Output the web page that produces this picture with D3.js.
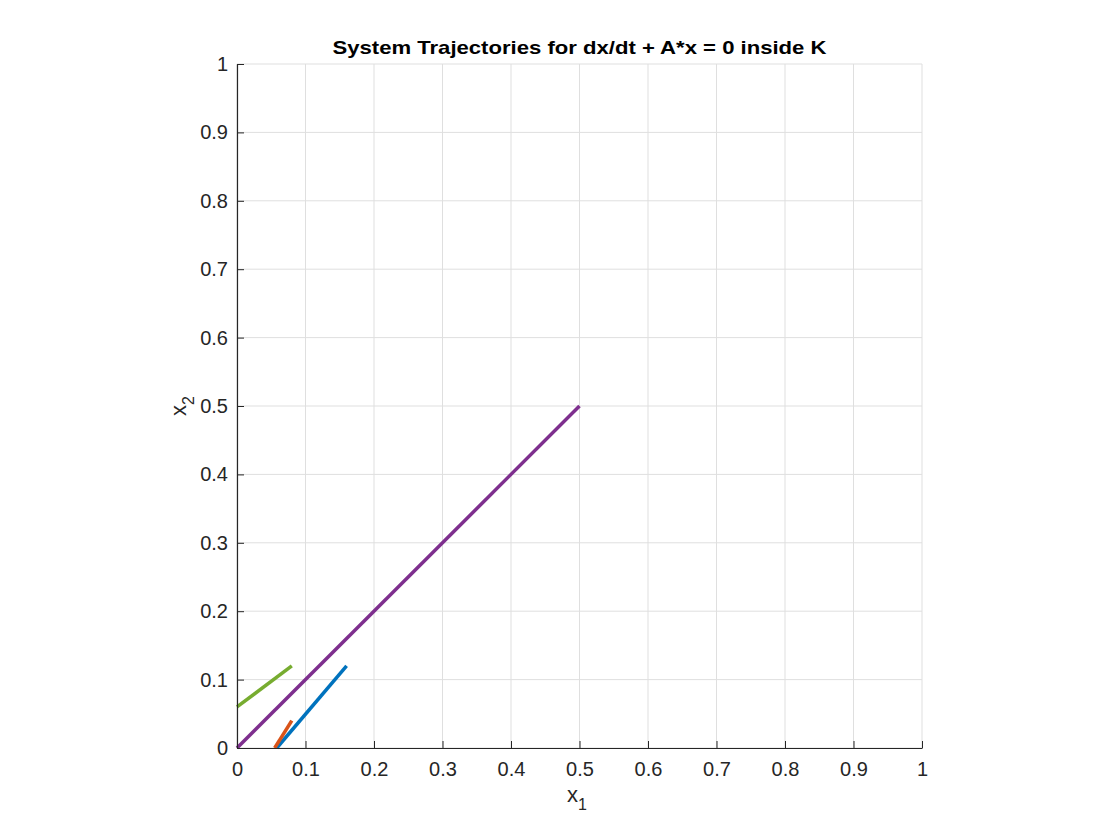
<!DOCTYPE html>
<html>
<head>
<meta charset="utf-8">
<script src="https://cdn.jsdelivr.net/npm/d3@7"></script>
<style>
  body { margin: 0; background: #fff; }
  svg text { font-family: "Liberation Sans", Arial, Helvetica, sans-serif; }
</style>
</head>
<body>
<svg id="chart" width="1120" height="840"></svg>
<script>
// trajectories, [x1, x2] points
var blueTraj = [[0.058, 0], [0.16, 0.12]];
var orangeTraj = [[0.055, 0], [0.08, 0.04]];
var purpleTraj = [[0, 0], [0.5, 0.5]];
var greenTraj = [[0, 0.06], [0.08, 0.12]];
var tickValues = [0, 0.1, 0.2, 0.3, 0.4, 0.5, 0.6, 0.7, 0.8, 0.9, 1];
var titleText = 'System Trajectories for dx/dt + A*x = 0 inside K';

var svg = d3.select('#chart');
var plotLeft = 237, plotTop = 64, w = 685, h = 684;

var x = d3.scaleLinear().domain([0, 1]).range([plotLeft, plotLeft + w]);
var y = d3.scaleLinear().domain([0, 1]).range([plotTop + h, plotTop]);

var fmt = function(d){ return d3.format('~g')(d); };

// grid
var grid = svg.append('g').attr('class', 'grid');
grid.selectAll('line.v').data(tickValues).enter().append('line')
	.attr('x1', function(d){ return x(d); }).attr('x2', function(d){ return x(d); })
	.attr('y1', plotTop).attr('y2', plotTop + h)
	.attr('stroke', '#dfdfdf').attr('stroke-width', 1);
grid.selectAll('line.h').data(tickValues).enter().append('line')
	.attr('y1', function(d){ return y(d); }).attr('y2', function(d){ return y(d); })
	.attr('x1', plotLeft).attr('x2', plotLeft + w)
	.attr('stroke', '#dfdfdf').attr('stroke-width', 1);

// trajectories
var line = d3.line().x(function(d){ return x(d[0]); }).y(function(d){ return y(d[1]); });
var series = [
	{data: blueTraj, color: '#0072BD'},
	{data: orangeTraj, color: '#D95319'},
	{data: purpleTraj, color: '#7E2F8E'},
	{data: greenTraj, color: '#77AC30'}
];
svg.append('g').selectAll('path').data(series).enter().append('path')
	.attr('d', function(d){ return line(d.data); })
	.attr('fill', 'none')
	.attr('stroke', function(d){ return d.color; })
	.attr('stroke-width', 3.5);

// axes (ticks inward)
var xAxis = svg.append('g').attr('transform', 'translate(0,' + (plotTop + h) + ')')
	.call(d3.axisBottom(x).tickValues(tickValues).tickFormat(fmt).tickSizeInner(-7).tickSizeOuter(0).tickPadding(14));
var yAxis = svg.append('g').attr('transform', 'translate(' + plotLeft + ',0)')
	.call(d3.axisLeft(y).tickValues(tickValues).tickFormat(fmt).tickSizeInner(-7).tickSizeOuter(0).tickPadding(9));
[xAxis, yAxis].forEach(function(a){
	a.select('.domain').attr('stroke', '#262626').attr('stroke-width', 1.2);
	a.selectAll('.tick line').attr('stroke', '#262626');
	a.selectAll('.tick text').attr('fill', '#262626').style('font-size', '20px');
});

// title
svg.append('text')
	.attr('x', plotLeft + w / 2).attr('y', 54)
	.attr('text-anchor', 'middle')
	.style('font-size', '19px').style('font-weight', 'bold')
	.attr('textLength', 494).attr('lengthAdjust', 'spacingAndGlyphs')
	.attr('fill', '#000')
	.text(titleText);

// axis labels
var xl = svg.append('text')
	.attr('x', 577).attr('y', 802)
	.attr('text-anchor', 'middle')
	.attr('fill', '#262626').style('font-size', '22px');
xl.append('tspan').text('x');
xl.append('tspan').attr('dy', 8).style('font-size', '16px').text('1');

var yl = svg.append('text')
	.attr('transform', 'translate(186,' + (plotTop + h / 2) + ') rotate(-90)')
	.attr('text-anchor', 'middle')
	.attr('fill', '#262626').style('font-size', '22px');
yl.append('tspan').text('x');
yl.append('tspan').attr('dy', 8).style('font-size', '16px').text('2');
</script>
</body>
</html>
